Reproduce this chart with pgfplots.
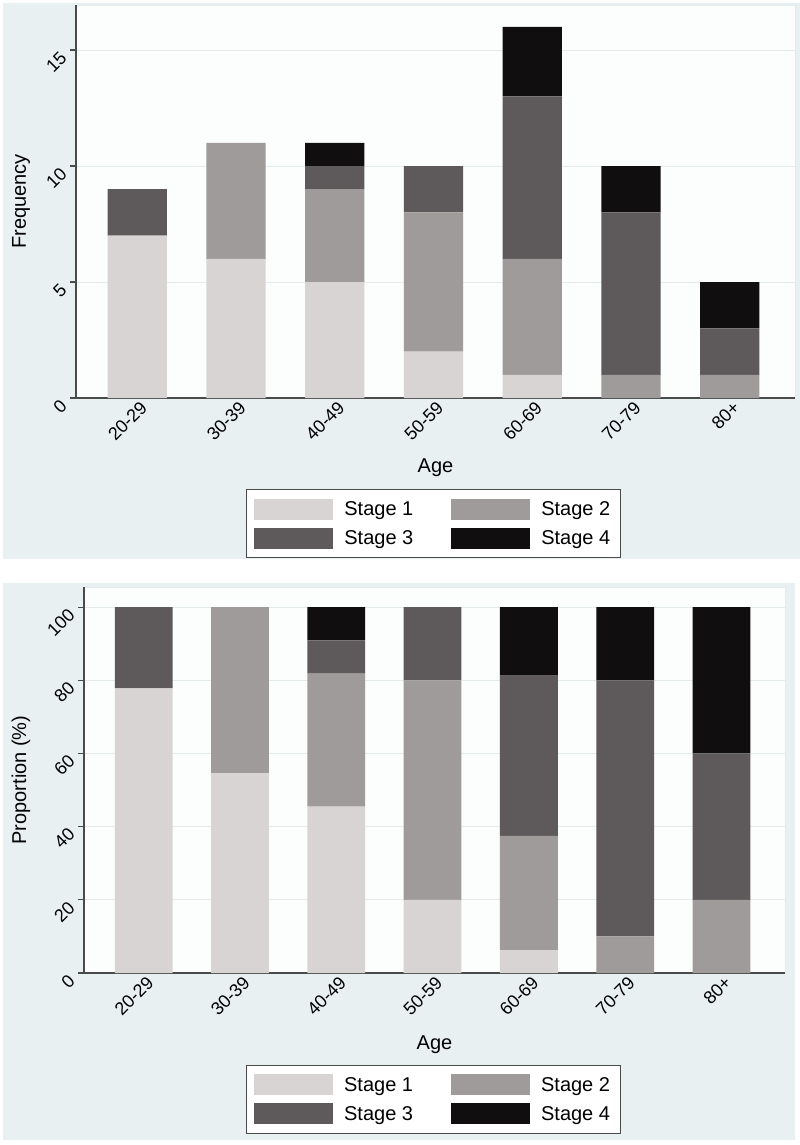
\documentclass[border=0pt]{standalone}
\usepackage{pgfplots}
\pgfplotsset{compat=1.18}
\usepackage{fontspec}
\setmainfont{Liberation Sans}
\definecolor{panelbg}{HTML}{E8F0F2}
\definecolor{plotbg}{HTML}{FCFDFD}
\definecolor{gridc}{HTML}{E3EBED}
\definecolor{axisc}{HTML}{4A4A4A}
\definecolor{sA}{HTML}{D8D4D4}
\definecolor{sB}{HTML}{A09B9B}
\definecolor{sC}{HTML}{5E5A5B}
\definecolor{sD}{HTML}{100E0F}
\pgfplotsset{
  stagelegend/.style={legend image code/.code={\fill[##1] (0bp,-10.5bp) rectangle (79bp,10.5bp);}},
  stataaxis/.style={
    scale only axis,
    ybar stacked,
    bar width=0.6,
    xmin=-0.62, xmax=6.66, ymin=0,
    xtick={0,...,6},
    xticklabels={20-29,30-39,40-49,50-59,60-69,70-79,80+},
    axis x line*=bottom, axis y line*=left,
    axis line style={color=axisc, line width=1.1bp, -},
    xtick style={draw=none},
    ytick style={color=axisc, line width=1.1bp},
    major tick length=6bp,
    tick align=outside,
    ymajorgrids, grid style={color=gridc, line width=1bp},
    axis background/.style={fill=plotbg, draw=gridc, line width=0.8bp},
    tick label style={font=\fontsize{18bp}{21bp}\selectfont},
    xticklabel style={xshift=2bp, yshift=4bp, rotate=45, anchor=north east, inner sep=0pt},
    yticklabel style={xshift=-11bp, yshift=0bp, rotate=45, anchor=north east, inner sep=0pt},
    /pgf/number format/assume math mode=true,
    legend columns=2,
    legend cell align=left,
    legend style={draw=axisc, fill=white, line width=1bp,
      font=\fontsize{20bp}{24bp}\selectfont,
      inner xsep=8bp, inner ysep=9bp, row sep=8bp,
      nodes={inner xsep=2bp, inner ysep=0bp},
      /tikz/every odd column/.append style={column sep=9bp},
      /tikz/every even column/.append style={column sep=36bp}},
  }
}
\begin{document}
\begin{tikzpicture}
\fill[white] (0bp,0bp) rectangle (800bp,-1145bp);
\fill[panelbg] (3bp,-3bp) rectangle (800bp,-559bp);
\fill[panelbg] (3bp,-583bp) rectangle (795bp,-1140bp);
\begin{axis}[stataaxis,
  at={(76bp,-398bp)}, anchor=south west,
  width=719bp, height=393bp,
  ymax=16.94, ytick={0,5,10,15},
  ylabel={Frequency}, xlabel={Age},
  every axis y label/.style={at={(axis description cs:-0.0765,0.5)}, rotate=90, anchor=center, font=\fontsize{20bp}{24bp}\selectfont},
  every axis x label/.style={at={(axis description cs:0.5,-0.178)}, anchor=center, font=\fontsize{20bp}{24bp}\selectfont},
  legend style={at={(0.497,-0.2316)}, anchor=north},
]
\addplot[fill=sA, draw=none, stagelegend] coordinates {(0,7) (1,6) (2,5) (3,2) (4,1) (5,0) (6,0)};
\addplot[fill=sB, draw=none, stagelegend] coordinates {(0,0) (1,5) (2,4) (3,6) (4,5) (5,1) (6,1)};
\addplot[fill=sC, draw=none, stagelegend] coordinates {(0,2) (1,0) (2,1) (3,2) (4,7) (5,7) (6,2)};
\addplot[fill=sD, draw=none, stagelegend] coordinates {(0,0) (1,0) (2,1) (3,0) (4,3) (5,2) (6,2)};
\legend{Stage 1, Stage 2, Stage 3, Stage 4}
\end{axis}
\begin{axis}[stataaxis,
  at={(84bp,-973bp)}, anchor=south west,
  width=701bp, height=386bp,
  ymax=105.5, ytick={0,20,40,60,80,100},
  ylabel={Proportion (\%)}, xlabel={Age},
  every axis y label/.style={at={(axis description cs:-0.0899,0.5)}, rotate=90, anchor=center, font=\fontsize{20bp}{24bp}\selectfont},
  every axis x label/.style={at={(axis description cs:0.5,-0.1865)}, anchor=center, font=\fontsize{20bp}{24bp}\selectfont},
  legend style={at={(0.498,-0.238)}, anchor=north},
]
\addplot[fill=sA, draw=none, stagelegend] coordinates {(0,77.78) (1,54.55) (2,45.45) (3,20) (4,6.25) (5,0) (6,0)};
\addplot[fill=sB, draw=none, stagelegend] coordinates {(0,0) (1,45.45) (2,36.36) (3,60) (4,31.25) (5,10) (6,20)};
\addplot[fill=sC, draw=none, stagelegend] coordinates {(0,22.22) (1,0) (2,9.09) (3,20) (4,43.75) (5,70) (6,40)};
\addplot[fill=sD, draw=none, stagelegend] coordinates {(0,0) (1,0) (2,9.10) (3,0) (4,18.75) (5,20) (6,40)};
\legend{Stage 1, Stage 2, Stage 3, Stage 4}
\end{axis}
\end{tikzpicture}
\end{document}
